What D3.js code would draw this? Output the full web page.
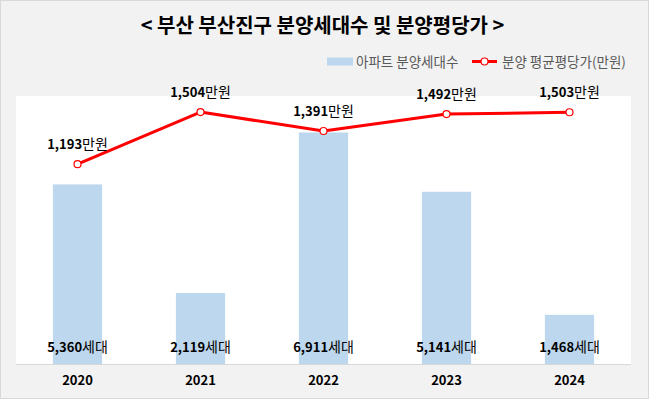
<!DOCTYPE html>
<html>
<head>
<meta charset="utf-8">
<script src="https://cdn.jsdelivr.net/npm/d3@7"></script>
<style>
  body { margin: 0; background: #fff; }
  text { font-family: "Noto Sans CJK KR", "Noto Sans", sans-serif; }
</style>
</head>
<body>
<div id="chart"></div>
<script>
// 데이터
const years = ["2020", "2021", "2022", "2023", "2024"]
const units = [5360, 2119, 6911, 5141, 1468]       // 아파트 분양세대수
const prices = [1193, 1504, 1391, 1492, 1503]      // 분양 평균평당가(만원)

const W = 649, H = 399
const plot = { left: 16, right: 631, top: 96, bottom: 364 }

const svg = d3.select("#chart")
  .append("svg")
    .attr("width", W)
    .attr("height", H)

// 배경
svg.append("rect")
  .attr("x", 0.5).attr("y", 0.5)
  .attr("width", W - 1).attr("height", H - 1)
  .attr("fill", "#f2f2f2")
  .attr("stroke", "#d9d9d9")

svg.append("rect")
  .attr("x", plot.left).attr("y", plot.top)
  .attr("width", plot.right - plot.left)
  .attr("height", plot.bottom - plot.top)
  .attr("fill", "#ffffff")

// 스케일
const x = d3.scaleBand()
  .domain(years)
  .range([plot.left, plot.right])
  .paddingInner(0.6)
  .paddingOuter(0.3)

const yBar = d3.scaleLinear().domain([0, 8000]).range([plot.bottom, plot.top])
const yLine = d3.scaleLinear().domain([0, 1600]).range([plot.bottom, plot.top])

// x축
const xAxis = svg.append("g")
  .attr("transform", `translate(0,${plot.bottom})`)
  .call(d3.axisBottom(x).tickSize(0).tickPadding(12))
xAxis.select(".domain").attr("stroke", "#d9d9d9").attr("d", `M${plot.left},0.5H${plot.right}`)
xAxis.selectAll("text")
  .attr("font-size", 13)
  .attr("font-weight", "bold")
  .attr("fill", "#000")

// 막대
svg.append("g")
  .selectAll("rect")
  .data(years)
  .join("rect")
    .attr("x", d => x(d))
    .attr("width", x.bandwidth())
    .attr("y", (d, i) => yBar(units[i]))
    .attr("height", (d, i) => plot.bottom - yBar(units[i]))
    .attr("fill", "#bdd7ee")

// 막대 라벨 (숫자는 굵게)
const barLabels = svg.append("g")
  .selectAll("text")
  .data(years)
  .join("text")
    .attr("x", d => x(d) + x.bandwidth() / 2)
    .attr("y", 352)
    .attr("text-anchor", "middle")
    .attr("font-size", 14)
    .attr("fill", "#000")
barLabels.append("tspan")
  .attr("font-weight", "bold")
  .attr("font-size", 13)
  .text((d, i) => d3.format(",")(units[i]))
barLabels.append("tspan").text("세대")

// 선
const cx = d => x(d) + x.bandwidth() / 2
const line = d3.line()
  .x(d => cx(d))
  .y((d, i) => yLine(prices[i]))

svg.append("path")
  .datum(years)
  .attr("d", line)
  .attr("fill", "none")
  .attr("stroke", "#ff0000")
  .attr("stroke-width", 3)
  .attr("stroke-linejoin", "round")

svg.append("g")
  .selectAll("circle")
  .data(years)
  .join("circle")
    .attr("cx", d => cx(d))
    .attr("cy", (d, i) => yLine(prices[i]))
    .attr("r", 3.5)
    .attr("fill", "#fff")
    .attr("stroke", "#ff0000")
    .attr("stroke-width", 1.2)

const lineLabels = svg.append("g")
  .selectAll("text")
  .data(years)
  .join("text")
    .attr("x", d => cx(d))
    .attr("y", (d, i) => yLine(prices[i]) - 15)
    .attr("text-anchor", "middle")
    .attr("font-size", 14)
    .attr("fill", "#000")
lineLabels.append("tspan")
  .attr("font-weight", "bold")
  .attr("font-size", 13)
  .text((d, i) => d3.format(",")(prices[i]))
lineLabels.append("tspan").text("만원")

// 제목
svg.append("text")
  .attr("x", W / 2 - 2)
  .attr("y", 33)
  .attr("text-anchor", "middle")
  .attr("font-size", 20)
  .attr("font-weight", "bold")
  .attr("fill", "#000")
  .text("< 부산 부산진구 분양세대수 및 분양평당가 >")

// 범례
const legend = svg.append("g").attr("font-size", 13.5).attr("fill", "#595959")
legend.append("rect")
  .attr("x", 327).attr("y", 57.5)
  .attr("width", 26).attr("height", 8)
  .attr("fill", "#bdd7ee")
legend.append("text")
  .attr("x", 356).attr("y", 66.5)
  .text("아파트 분양세대수")
legend.append("line")
  .attr("x1", 472).attr("x2", 497)
  .attr("y1", 61.5).attr("y2", 61.5)
  .attr("stroke", "#ff0000").attr("stroke-width", 3)
legend.append("circle")
  .attr("cx", 484.5).attr("cy", 61.5).attr("r", 3.5)
  .attr("fill", "#fff").attr("stroke", "#ff0000").attr("stroke-width", 1.2)
legend.append("text")
  .attr("x", 502).attr("y", 66.5)
  .text("분양 평균평당가(만원)")
</script>
</body>
</html>
